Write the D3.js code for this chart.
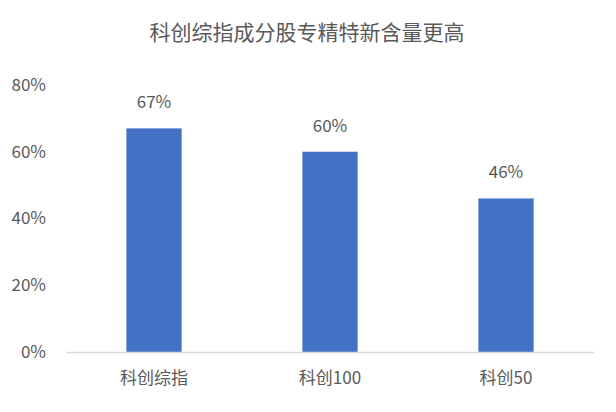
<!DOCTYPE html>
<html>
<head>
<meta charset="utf-8">
<script src="https://cdn.jsdelivr.net/npm/d3@7"></script>
<style>
  body { margin: 0; background: #fff; }
  text { font-family: "Noto Sans CJK SC", "Noto Sans", sans-serif; fill: #595959; }
</style>
</head>
<body>
<div id="chart"></div>
<script>
// chart data
var categories = ["科创综指", "科创100", "科创50"];
var values = [0.67, 0.60, 0.46];
var yTicks = [0, 0.2, 0.4, 0.6, 0.8];
var title = "科创综指成分股专精特新含量更高";

var svgWidth = 616;
var svgHeight = 412;

var margin = { top: 85, right: 22, bottom: 60, left: 66 };
var chartWidth = svgWidth - margin.left - margin.right;
var chartHeight = svgHeight - margin.top - margin.bottom;

var svg = d3.select("#chart")
    .append("svg")
    .attr("width", svgWidth)
    .attr("height", svgHeight);

svg.append("text")
    .attr("x", 307)
    .attr("y", 33)
    .attr("dy", "0.35em")
    .attr("text-anchor", "middle")
    .attr("font-size", "21px")
    .text(title);

var chartGroup = svg.append("g")
    .attr("transform", `translate(${margin.left},${margin.top})`);

var xScale = d3.scaleBand()
    .domain(categories)
    .range([0, chartWidth])
    .paddingInner(0.686)
    .paddingOuter(0.343);

var yScale = d3.scaleLinear()
    .domain([0, 0.8])
    .range([chartHeight, 0]);

// y axis labels only, no line
var leftAxis = d3.axisLeft(yScale)
    .tickValues(yTicks)
    .tickFormat(d3.format(".0%"))
    .tickSize(0)
    .tickPadding(20);

var yAxis = chartGroup.append("g").call(leftAxis);
yAxis.select(".domain").remove();
yAxis.selectAll("text")
    .attr("font-size", "17px")
    .attr("fill", "#595959");

// bars
chartGroup.selectAll("rect")
    .data(values)
    .enter()
    .append("rect")
    .attr("x", (d, i) => xScale(categories[i]))
    .attr("y", d => yScale(d))
    .attr("width", xScale.bandwidth())
    .attr("height", d => chartHeight - yScale(d))
    .attr("fill", "#4472C4");

// value labels
chartGroup.selectAll(".val")
    .data(values)
    .enter()
    .append("text")
    .attr("class", "val")
    .attr("x", (d, i) => xScale(categories[i]) + xScale.bandwidth() / 2)
    .attr("y", d => yScale(d) - 26)
    .attr("dy", "0.35em")
    .attr("text-anchor", "middle")
    .attr("font-size", "17px")
    .text(d => d3.format(".0%")(d));

// x axis
var bottomAxis = d3.axisBottom(xScale)
    .tickSize(0)
    .tickPadding(20);

var xAxis = chartGroup.append("g")
    .attr("transform", `translate(0, ${chartHeight})`)
    .call(bottomAxis);
xAxis.select(".domain")
    .attr("stroke", "#d9d9d9")
    .attr("stroke-width", 1.5);
xAxis.selectAll("text")
    .attr("font-size", "17px")
    .attr("fill", "#595959");
</script>
</body>
</html>
